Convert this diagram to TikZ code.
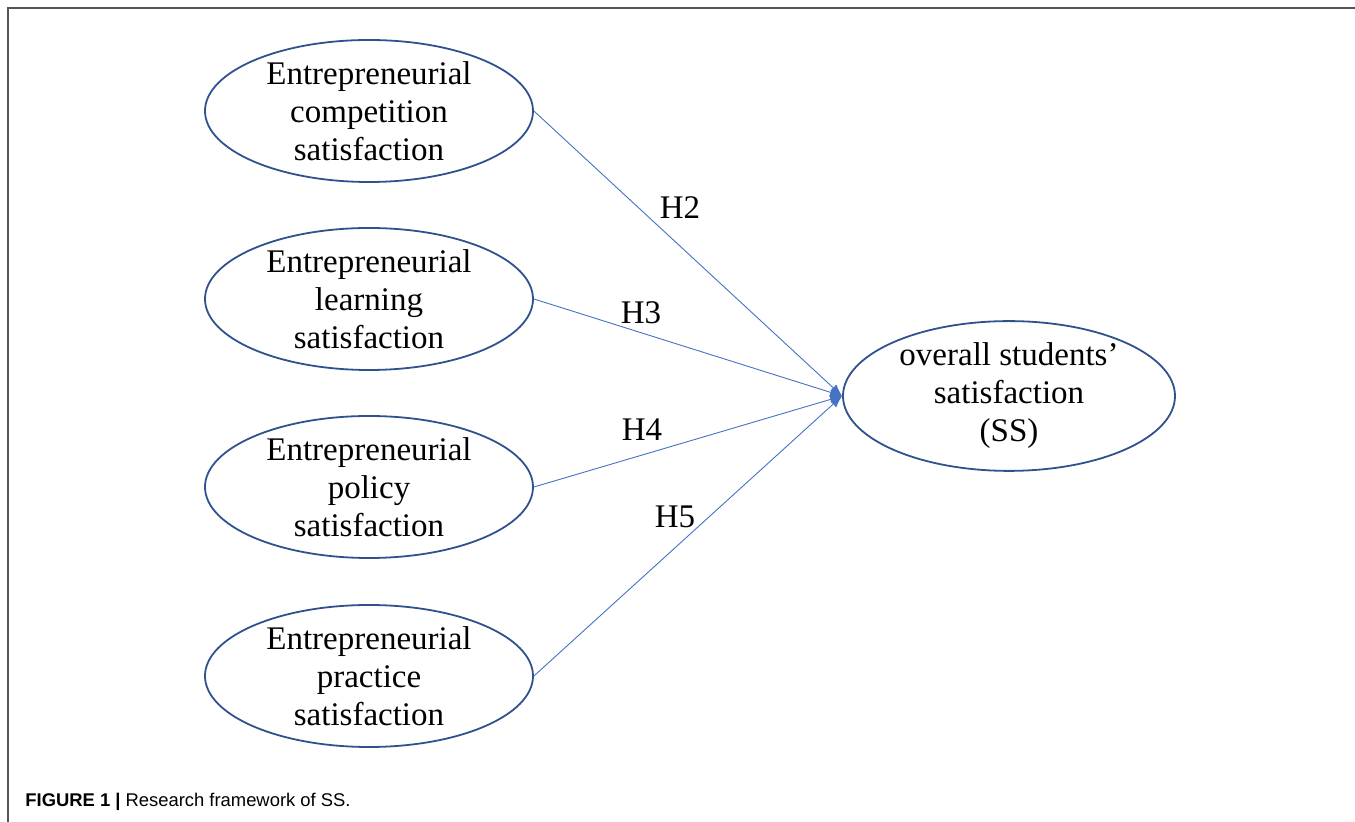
\documentclass[tikz,border=0pt]{standalone}
\usepackage{fontspec}
\setmainfont{Liberation Serif}
\setsansfont{Liberation Sans}
\usetikzlibrary{shapes.geometric,arrows.meta}

\definecolor{ovalblue}{RGB}{47,82,143}
\definecolor{linkblue}{RGB}{68,114,196}
\definecolor{framegray}{RGB}{85,85,85}

\begin{document}
\begin{tikzpicture}[x=0.5pt,y=-0.5pt,
		oval/.style={ellipse, draw=ovalblue, line width=0.9pt, minimum width=164pt, minimum height=71pt, inner sep=0pt, align=center, font=\fontsize{16.5}{19}\selectfont},
		link/.style={draw=linkblue, line width=0.45pt, -{Latex[length=6pt,width=4.5pt]}},
		hyp/.style={font=\fontsize{16.5}{19}\selectfont, inner sep=0pt}]
		\useasboundingbox (0,0) rectangle (1355,822);
		\draw[framegray, line width=1pt] (8,822) -- (8,8) -- (1355,8);
		
		\node[oval] (comp) at (369,111) {Entrepreneurial\\competition\\satisfaction};
		\node[oval] (learn) at (369,299) {Entrepreneurial\\learning\\satisfaction};
		\node[oval] (policy) at (369,487) {Entrepreneurial\\policy\\satisfaction};
		\node[oval] (practice) at (369,676) {Entrepreneurial\\practice\\satisfaction};
		\node[oval, minimum width=166pt] (ss) at (1009,396) {overall students'\\satisfaction\\(SS)};
		
		\draw[link] (comp.east) -- (ss.west);
		\draw[link] (learn.east) -- (ss.west);
		\draw[link] (policy.east) -- (ss.west);
		\draw[link] (practice.east) -- (ss.west);
		
		\node[hyp] (h2) at (680,208) {H2};
		\node[hyp] (h3) at (641,313) {H3};
		\node[hyp] (h4) at (642,430) {H4};
		\node[hyp] (h5) at (675,517) {H5};
		
		\node[anchor=base west, inner sep=0pt, font=\sffamily\fontsize{9.2}{11}\selectfont] (caption) at (25,807) {\textbf{FIGURE 1 |} Research framework of SS.};
\end{tikzpicture}
\end{document}
